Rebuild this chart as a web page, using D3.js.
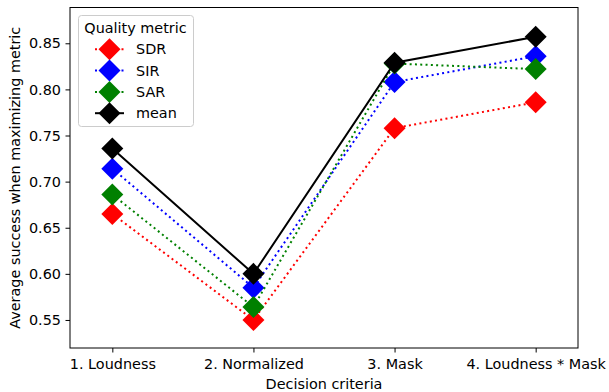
<!DOCTYPE html>
<html>
<head>
<meta charset="utf-8">
<script src="https://cdn.jsdelivr.net/npm/d3@7"></script>
<style>
  html, body { margin: 0; padding: 0; background: #fff; }
  svg { display: block; font-family: "DejaVu Sans", sans-serif; }
</style>
</head>
<body>
<svg id="chart" width="609" height="392"></svg>
<script>
// Decision criteria along the x axis
const categories = ["1. Loudness", "2. Normalized", "3. Mask", "4. Loudness * Mask"];

// Average success per quality metric
const sdr  = [0.665, 0.550, 0.758, 0.786];
const sir  = [0.714, 0.585, 0.808, 0.836];
const sar  = [0.686, 0.564, 0.828, 0.822];
const mean = [0.736, 0.600, 0.829, 0.857];

const yTicks = [0.55, 0.60, 0.65, 0.70, 0.75, 0.80, 0.85];

const series = [
  { name: "SDR",  values: sdr,  color: "red",     dash: "2,3.3" },
  { name: "SIR",  values: sir,  color: "blue",    dash: "2,3.3" },
  { name: "SAR",  values: sar,  color: "#008000", dash: "2,3.3" },
  { name: "mean", values: mean, color: "black",   dash: null }
];

const FS = 14.4;
const svg = d3.select("#chart");
const plotLeft = 70, plotRight = 578, plotTop = 7.5, plotBottom = 348;

const x = d3.scaleLinear().domain([-0.3, 3.3]).range([plotLeft, plotRight]);
const y = d3.scaleLinear().domain([0.5196, 0.8888]).range([plotBottom, plotTop]);

// Axes
const xAxis = d3.axisBottom(x)
  .tickValues(d3.range(categories.length))
  .tickFormat(i => categories[i])
  .tickSizeInner(4.5).tickSizeOuter(0).tickPadding(4.5);
const yAxis = d3.axisLeft(y)
  .tickValues(yTicks)
  .tickFormat(d3.format(".2f"))
  .tickSizeInner(4.5).tickSizeOuter(0).tickPadding(4.5);

const gx = svg.append("g").attr("transform", `translate(0,${plotBottom})`).call(xAxis);
const gy = svg.append("g").attr("transform", `translate(${plotLeft},0)`).call(yAxis);
[gx, gy].forEach(g => {
  g.select(".domain").remove();
  g.selectAll("text").attr("font-size", FS).attr("fill", "#000").attr("font-family", "DejaVu Sans, sans-serif");
  g.selectAll("line").attr("stroke", "#000").attr("stroke-width", 1);
});
gx.selectAll("text").attr("dy", "12.3px");

// Plot frame
svg.append("rect")
  .attr("x", plotLeft).attr("y", plotTop)
  .attr("width", plotRight - plotLeft).attr("height", plotBottom - plotTop)
  .attr("fill", "none").attr("stroke", "#000").attr("stroke-width", 1);

// Axis titles
svg.append("text")
  .attr("x", (plotLeft + plotRight) / 2).attr("y", 389)
  .attr("text-anchor", "middle").attr("font-size", FS)
  .text("Decision criteria");
svg.append("text")
  .attr("transform", `translate(19.5,${(plotTop + plotBottom) / 2}) rotate(-90)`)
  .attr("text-anchor", "middle").attr("font-size", FS)
  .text("Average success when maximizing metric");

const line = d3.line().x((d, i) => x(i)).y(d => y(d));
const diamond = r => `M0,${-r}L${r},0L0,${r}L${-r},0Z`;
const R = 11;

const plot = svg.append("g");
series.forEach(s => {
  const g = plot.append("g");
  g.append("path")
    .attr("d", line(s.values))
    .attr("fill", "none")
    .attr("stroke", s.color)
    .attr("stroke-width", 2)
    .attr("stroke-dasharray", s.dash);
  g.selectAll("path.m").data(s.values).join("path")
    .attr("class", "m")
    .attr("transform", (d, i) => `translate(${x(i)},${y(d)})`)
    .attr("d", diamond(R))
    .attr("fill", s.color);
});

// Legend
const lg = svg.append("g");
lg.append("rect")
  .attr("x", 78.5).attr("y", 15.5).attr("width", 115).attr("height", 111)
  .attr("rx", 3).attr("fill", "#fff").attr("fill-opacity", 0.8)
  .attr("stroke", "#ccc").attr("stroke-width", 1);
lg.append("text")
  .attr("x", 135.5).attr("y", 33).attr("text-anchor", "middle")
  .attr("font-size", FS).text("Quality metric");
series.forEach((s, k) => {
  const cy = 49.3 + k * 21.3;
  lg.append("line")
    .attr("x1", 95).attr("x2", 124).attr("y1", cy).attr("y2", cy)
    .attr("stroke", s.color).attr("stroke-width", 2)
    .attr("stroke-dasharray", s.dash);
  lg.append("path")
    .attr("transform", `translate(109.5,${cy})`)
    .attr("d", diamond(R)).attr("fill", s.color);
  lg.append("text")
    .attr("x", 136).attr("y", cy).attr("dy", "0.36em")
    .attr("font-size", FS).text(s.name);
});
</script>
</body>
</html>
